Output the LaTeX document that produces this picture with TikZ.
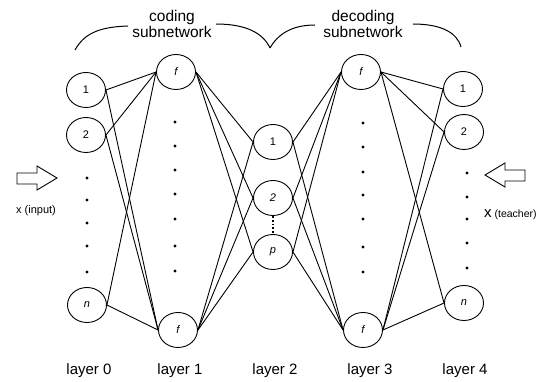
\documentclass[tikz,border=0pt]{standalone}
\usepackage{fontspec}
\setmainfont{Liberation Sans}
\usetikzlibrary{shapes.geometric}
\begin{document}
\begin{tikzpicture}[x=1pt,y=-1pt,
  neuron/.style={draw, ellipse, line width=0.9pt, minimum width=39pt, minimum height=35pt, inner sep=0pt, font=\fontsize{11}{11}\selectfont},
  conn/.style={line width=0.9pt},
  dotmark/.style={fill, circle, inner sep=0pt, minimum size=3.2pt},
  layertext/.style={font=\fontsize{15}{16}\selectfont, anchor=base},
  headtext/.style={font=\fontsize{15.5}{16}\selectfont, anchor=base, inner sep=0pt},
  bracepath/.style={line width=1pt},
  blockarrow/.style={draw, line width=0.9pt, line join=miter}]
\useasboundingbox (0,0) rectangle (542,382);

% neurons
\node[neuron] (l0a) at (86,90) {1};
\node[neuron] (l0b) at (86,135) {2};
\node[neuron] (l0n) at (87,305) {\itshape n};
\node[neuron] (l1t) at (176,72) {\itshape f};
\node[neuron] (l1b) at (178,330) {\itshape f};
\node[neuron] (l2a) at (273,142) {1};
\node[neuron] (l2b) at (273,198) {\itshape 2};
\node[neuron] (l2p) at (273,252) {\itshape p};
\node[neuron] (l3t) at (361,72) {\itshape f};
\node[neuron] (l3b) at (363,330) {\itshape f};
\node[neuron] (l4a) at (463,89) {1};
\node[neuron] (l4b) at (464,132) {2};
\node[neuron] (l4n) at (464,303) {\itshape n};

% dots
\foreach \y [count=\i] in {178,200,223,246,272} \node[dotmark] (dz\i) at (87,\y) {};
\foreach \y [count=\i] in {122,146,170,194,219,246,271} \node[dotmark] (done\i) at (175,\y) {};
\foreach \y [count=\i] in {123,147,172,195,219,247,272} \node[dotmark] (dthree\i) at (363,\y) {};
\foreach \y [count=\i] in {173,197,219,243,268} \node[dotmark] (dfour\i) at (467,\y) {};

% connections
\foreach \a in {l0a,l0b,l0n} \foreach \b in {l1t,l1b} \draw[conn] (\a.east) -- (\b.west);
\foreach \a in {l1t,l1b} \foreach \b in {l2a,l2b,l2p} \draw[conn] (\a.east) -- (\b.west);
\foreach \a in {l2a,l2b,l2p} \foreach \b in {l3t,l3b} \draw[conn] (\a.east) -- (\b.west);
\foreach \a in {l3t,l3b} \foreach \b in {l4a,l4b,l4n} \draw[conn] (\a.east) -- (\b.west);
\draw[line width=1.8pt, dotted] (l2b.south) -- (l2p.north);

% braces
\draw[bracepath] (75,50) .. controls (84,34) and (98,27) .. (128,26);
\draw[bracepath] (216,24) .. controls (246,24) and (263,33) .. (270,48);
\draw[bracepath] (270,48) .. controls (278,34) and (292,25) .. (315,25);
\draw[bracepath] (413,24) .. controls (440,24) and (457,32) .. (461,47);
\node[headtext] (cod1) at (172,22) {coding};
\node[headtext] (cod2) at (172,38) {subnetwork};
\node[headtext] (dec1) at (363,22) {decoding};
\node[headtext] (dec2) at (363,38) {subnetwork};

% block arrows
\draw[blockarrow] (17,173) -- (37,173) -- (37,166) -- (57,178) -- (37,190) -- (37,184) -- (17,184) -- cycle;
\draw[blockarrow] (525,170) -- (505,170) -- (505,163) -- (485,175) -- (505,187) -- (505,181) -- (525,181) -- cycle;
\node[font=\fontsize{11}{11}\selectfont] (xin) at (36,211) {x (input)};
\node[anchor=base west, inner sep=0pt] (xte) at (484,218) {\fontsize{15}{15}\selectfont x\fontsize{10.5}{11}\selectfont\ (teacher)};

% layer labels
\node[layertext] (lab0) at (89,375) {layer 0};
\node[layertext] (lab1) at (180,375) {layer 1};
\node[layertext] (lab2) at (275,375) {layer 2};
\node[layertext] (lab3) at (370,375) {layer 3};
\node[layertext] (lab4) at (465,375) {layer 4};
\end{tikzpicture}
\end{document}
